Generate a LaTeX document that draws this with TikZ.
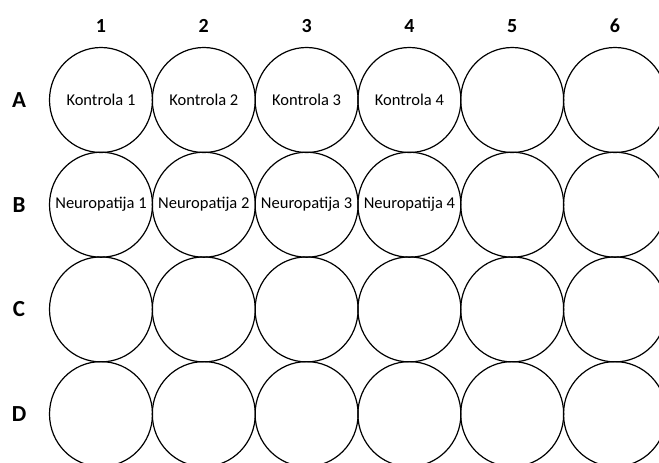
\documentclass[tikz,border=0pt]{standalone}
\usepackage{fontspec}
\setmainfont{Carlito}
\usetikzlibrary{shapes.geometric}
\begin{document}
\begin{tikzpicture}[x=1pt,y=-1pt,
  well/.style={draw=black,line width=1.2pt,ellipse,minimum width=103pt,minimum height=105pt,inner sep=0pt},
  welltext/.style={font=\fontsize{16.5}{18}\selectfont,inner sep=0pt},
  collabel/.style={font=\fontsize{20}{22}\selectfont\bfseries,inner sep=0pt},
  rowlabel/.style={font=\fontsize{23}{25}\selectfont\bfseries,inner sep=0pt}]
\useasboundingbox (0,0) rectangle (659,463);
\clip (0,0) rectangle (659,463);
\foreach \c [count=\i from 0] in {1,...,6} {
  \node[collabel] (col\c) at ({101+102.8*\i},26) {\c};
}
\foreach \r [count=\j from 0] in {A,B,C,D} {
  \node[rowlabel] (row\r) at (19,{100+104.7*\j}) {\r};
  \foreach \c [count=\i from 0] in {1,...,6} {
    \node[well] (w\r\c) at ({101+102.8*\i},{100+104.7*\j}) {};
  }
}
\node[welltext] (tA1) at (wA1) {Kontrola 1};
\node[welltext] (tA2) at (wA2) {Kontrola 2};
\node[welltext] (tA3) at (wA3) {Kontrola 3};
\node[welltext] (tA4) at (wA4) {Kontrola 4};
\node[welltext] (tB1) at (wB1) {Neuropatija 1};
\node[welltext] (tB2) at (wB2) {Neuropatija 2};
\node[welltext] (tB3) at (wB3) {Neuropatija 3};
\node[welltext] (tB4) at (wB4) {Neuropatija 4};
\end{tikzpicture}
\end{document}
